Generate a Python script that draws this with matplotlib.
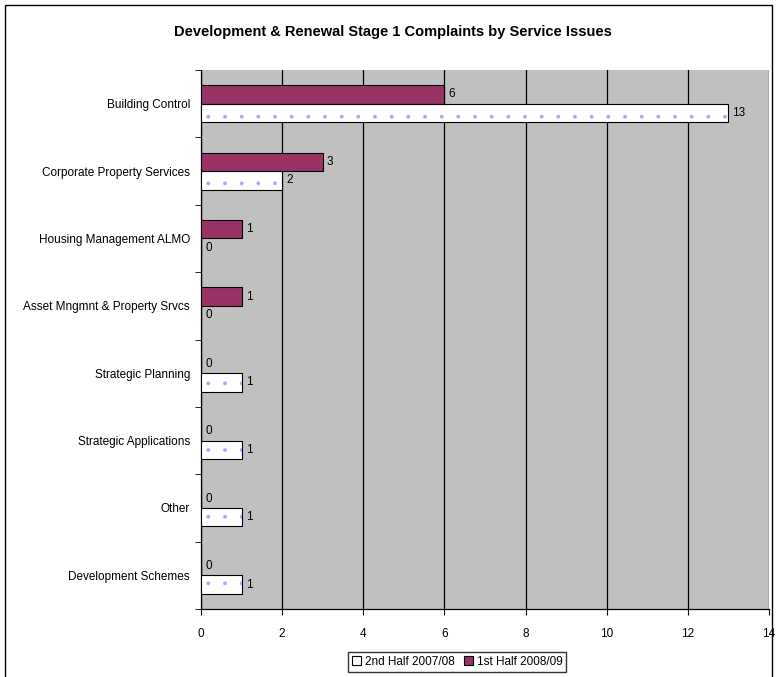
import matplotlib.pyplot as plt
import numpy as np
from matplotlib.patches import Rectangle

plt.rcParams['font.family'] = ['Liberation Sans', 'DejaVu Sans']
plt.rcParams['hatch.linewidth'] = 0.3

categories = ['Building Control', 'Corporate Property Services', 'Housing Management ALMO',
              'Asset Mngmnt & Property Srvcs', 'Strategic Planning', 'Strategic Applications',
              'Other', 'Development Schemes']
half_2007 = [13, 2, 0, 0, 1, 1, 1, 1]
half_2008 = [6, 3, 1, 1, 0, 0, 0, 0]

fig = plt.figure(figsize=(7.78, 6.77), dpi=100)
W, H = 778, 677
ax = fig.add_axes([201 / W, 1 - 609 / H, 568 / W, 539 / H])
ax.set_facecolor('#c0c0c0')

# outer chart frame
fig.patches.append(Rectangle((5 / W, -0.01), 767 / W, 1 - 5 / H + 0.01,
                             transform=fig.transFigure, fill=False,
                             edgecolor='black', linewidth=1))

n = len(categories)
y = np.arange(n)
h = 0.275

# dotted white bars: hatch layer then outline
ax.barh(y + h / 2, half_2007, height=h, color='white', edgecolor='#a8a8ff',
        hatch='.', linewidth=0, zorder=3)
ax.barh(y + h / 2, half_2007, height=h, fill=False, edgecolor='black',
        linewidth=0.8, zorder=4)
ax.barh(y - h / 2, half_2008, height=h, color='#993366', edgecolor='black',
        linewidth=0.8, zorder=3)

for i in range(n):
    ax.text(half_2008[i] + 0.1, y[i] - h / 2, str(half_2008[i]), va='center',
            ha='left', fontsize=8.5)
    ax.text(half_2007[i] + 0.1, y[i] + h / 2, str(half_2007[i]), va='center',
            ha='left', fontsize=8.5)

ax.set_xlim(0, 14)
ax.set_ylim(n - 0.5, -0.5)
ax.set_xticks(np.arange(0, 15, 2))
ax.xaxis.grid(True, color='black', linewidth=0.9, zorder=1)
ax.set_axisbelow(True)
ax.tick_params(axis='x', labelsize=8.5, length=4, direction='out', pad=10)

ax.set_yticks(y)
ax.set_yticklabels(categories, fontsize=8.5)
ax.tick_params(axis='y', which='major', length=0, pad=8)
ax.set_yticks(np.arange(-0.5, n, 1), minor=True)
ax.tick_params(axis='y', which='minor', length=4)

for side in ['top', 'right']:
    ax.spines[side].set_visible(False)
ax.spines['left'].set_linewidth(0.9)
ax.spines['bottom'].set_linewidth(0.9)

fig.text(393 / W, 1 - 32 / H, 'Development & Renewal Stage 1 Complaints by Service Issues',
         ha='center', va='center', fontsize=10.5, fontweight='bold')

handles = [Rectangle((0, 0), 1, 1, facecolor='white', edgecolor='black', linewidth=0.8),
           Rectangle((0, 0), 1, 1, facecolor='#993366', edgecolor='black', linewidth=0.8)]
fig.legend(handles, ['2nd Half 2007/08', '1st Half 2008/09'], loc='center',
           bbox_to_anchor=(457 / W, 1 - 662 / H), ncol=2, fontsize=8.5,
           frameon=True, fancybox=False, edgecolor='black', handlelength=0.8,
           handleheight=0.8, handletextpad=0.3, columnspacing=0.8,
           borderpad=0.3, borderaxespad=0)

fig.savefig('out.png', dpi=100)
